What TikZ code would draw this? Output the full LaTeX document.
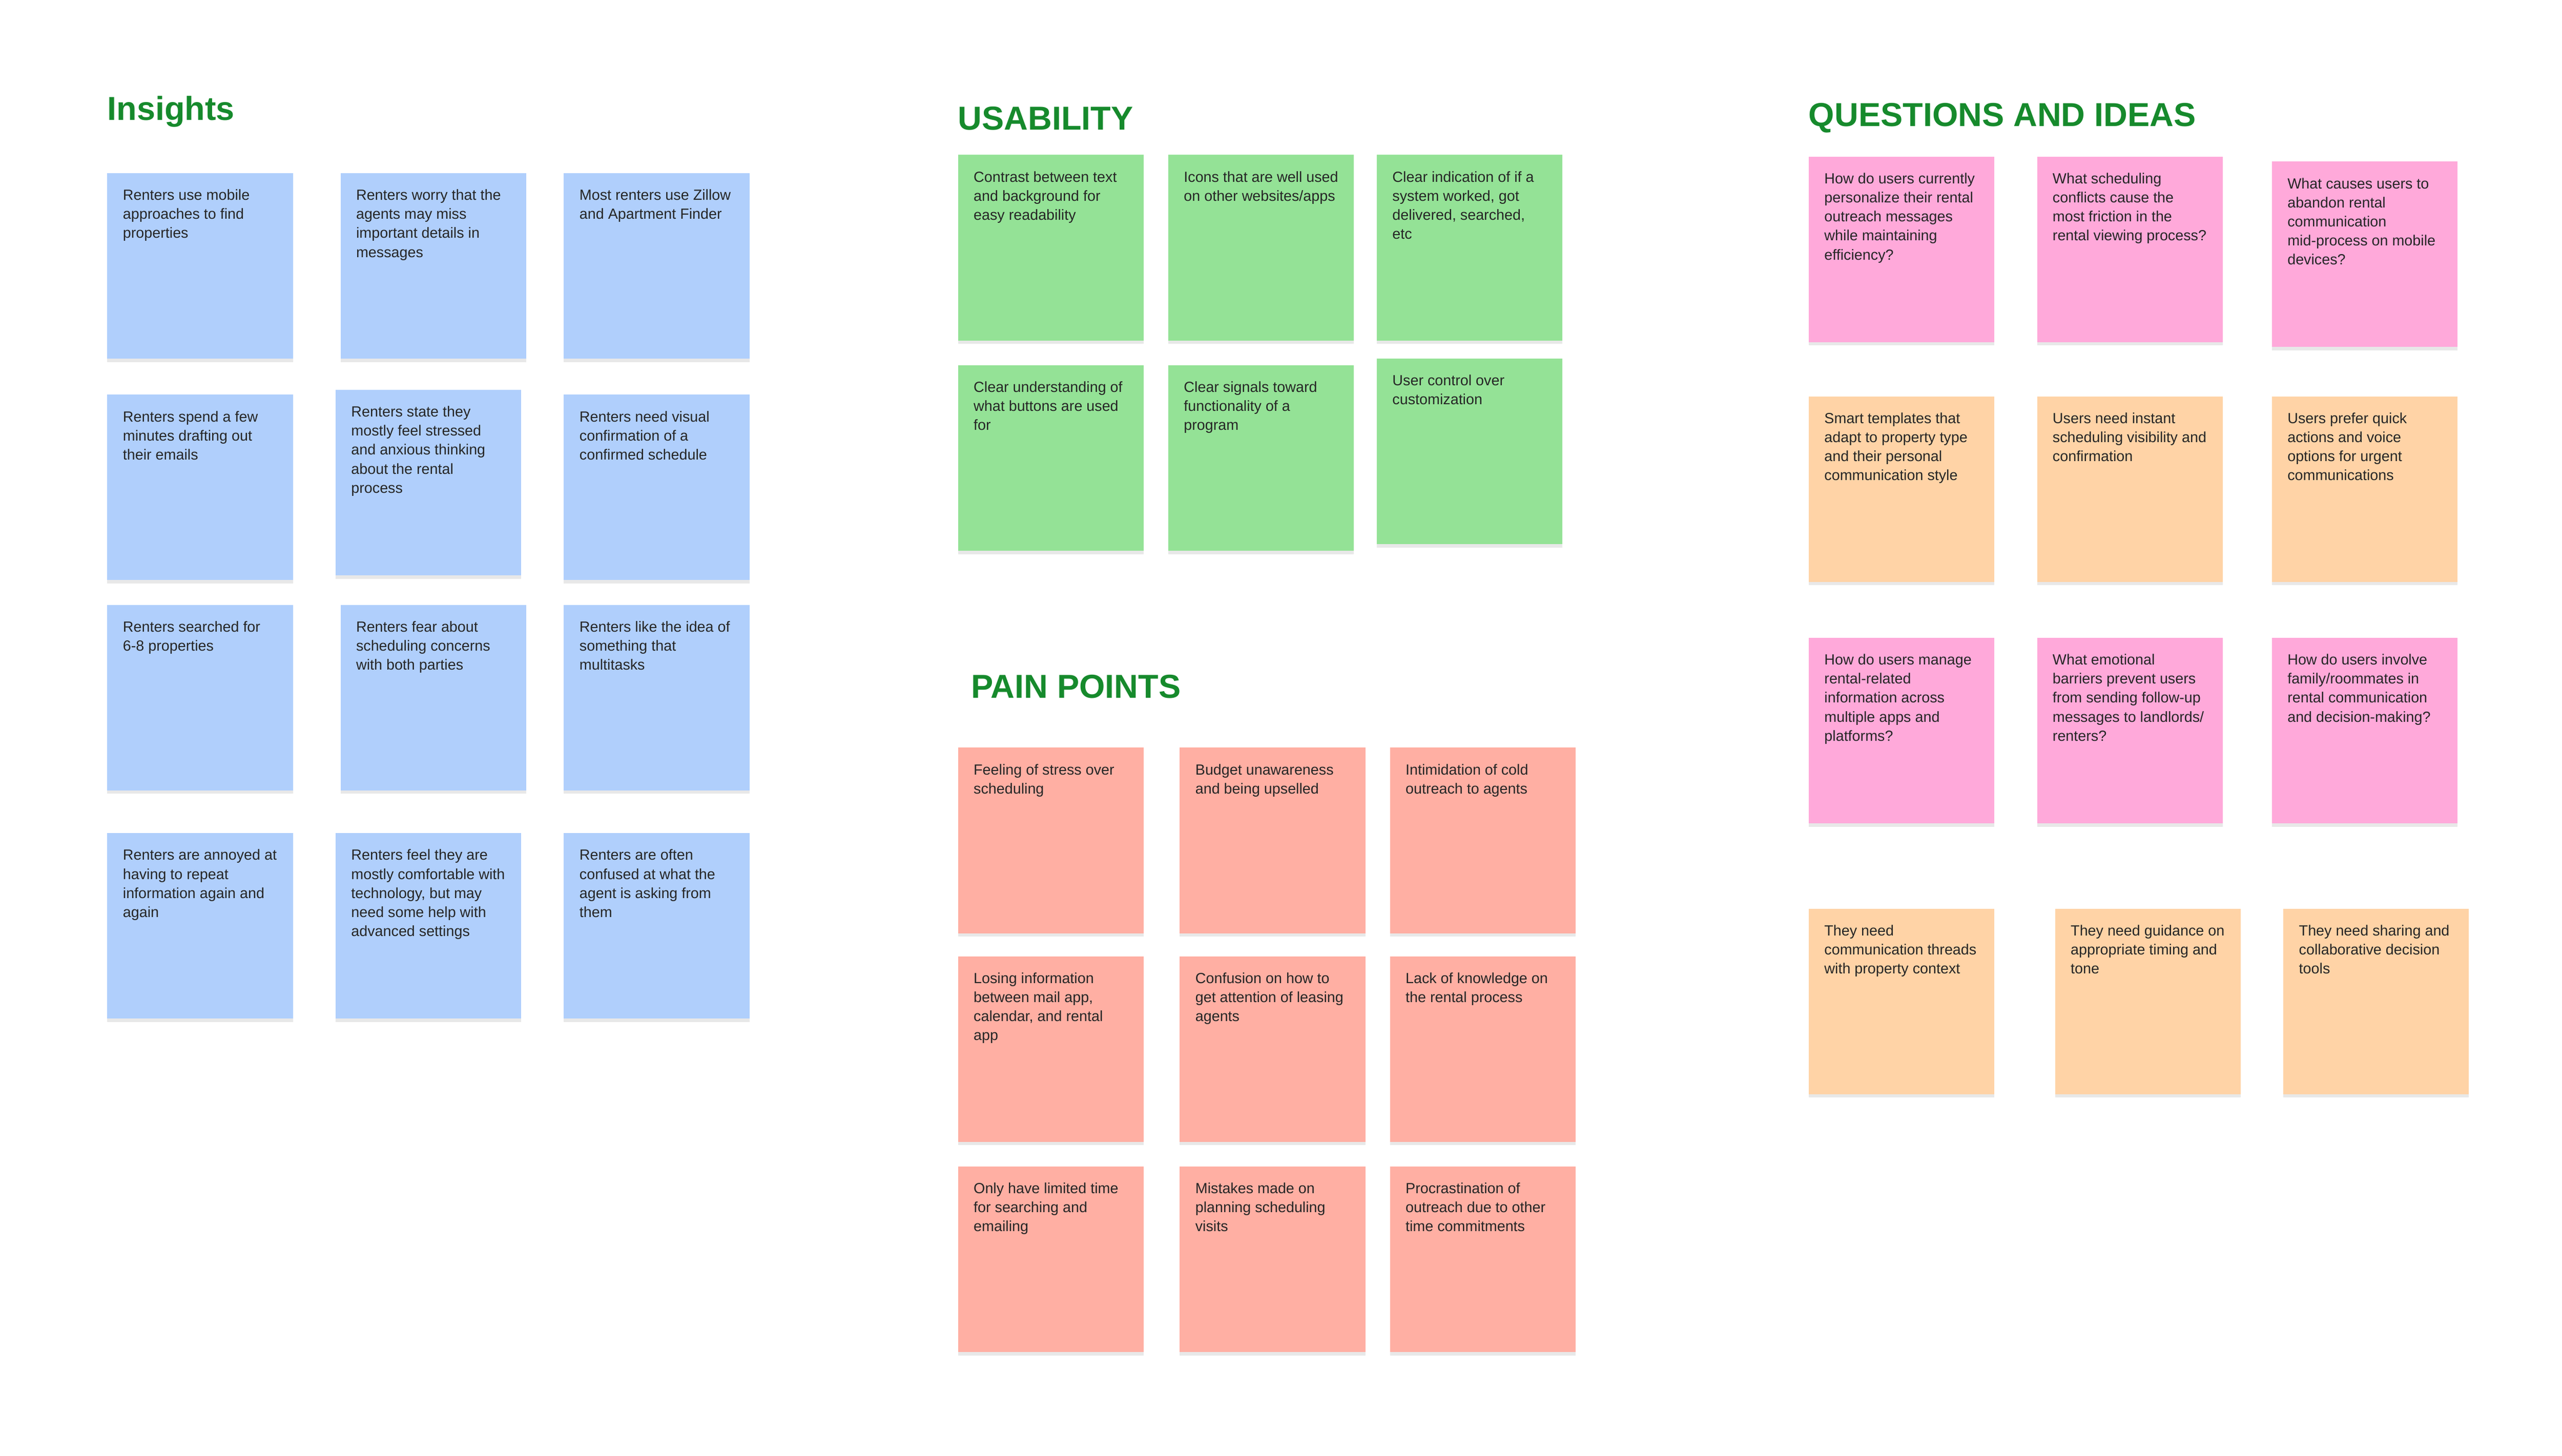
\documentclass[tikz,border=0pt]{standalone}
\usepackage{fontspec}
\setmainfont{Liberation Sans}
\usetikzlibrary{shadows}
\definecolor{insightblue}{HTML}{B0CFFC}
\definecolor{usegreen}{HTML}{94E296}
\definecolor{painred}{HTML}{FFAFA3}
\definecolor{ideapink}{HTML}{FFA9DA}
\definecolor{ideaorange}{HTML}{FFD3A6}
\definecolor{headgreen}{HTML}{168A2C}
\newcommand{\stickytext}[1]{\parbox[t][1.86cm][t]{1.88cm}{\raggedright #1}}
\tikzset{
  sticky/.style={anchor=north west, inner xsep=0.19cm, inner ysep=0.2cm,
    font=\fontsize{5.1}{6.6}\selectfont, text=black!85,
    drop shadow={opacity=0.18, shadow xshift=0pt, shadow yshift=-1.2pt}},
  heading/.style={anchor=west, inner sep=0, text=headgreen, font=\fontsize{11.5}{13}\selectfont\bfseries}
}
\begin{document}
\begin{tikzpicture}[x=0.02cm,y=-0.02cm]
    \useasboundingbox[fill=white] (0,0) rectangle (1560,886.5);
    % Insights
    \node[heading] (insights) at (65,68) {Insights};
    \node[sticky, fill=insightblue] (ins1) at (65,105) {\stickytext{Renters use mobile approaches to find properties}};
    \node[sticky, fill=insightblue] (ins2) at (207,105) {\stickytext{Renters worry that the agents may miss important details in messages}};
    \node[sticky, fill=insightblue] (ins3) at (343,105) {\stickytext{Most renters use Zillow and Apartment Finder}};
    \node[sticky, fill=insightblue] (ins4) at (65,240) {\stickytext{Renters spend a few minutes drafting out their emails}};
    \node[sticky, fill=insightblue] (ins5) at (204,237) {\stickytext{Renters state they mostly feel stressed and anxious thinking about the rental process}};
    \node[sticky, fill=insightblue] (ins6) at (343,240) {\stickytext{Renters need visual confirmation of a confirmed schedule}};
    \node[sticky, fill=insightblue] (ins7) at (65,368) {\stickytext{Renters searched for 6-8 properties}};
    \node[sticky, fill=insightblue] (ins8) at (207,368) {\stickytext{Renters fear about scheduling concerns with both parties}};
    \node[sticky, fill=insightblue] (ins9) at (343,368) {\stickytext{Renters like the idea of something that multitasks}};
    \node[sticky, fill=insightblue] (ins10) at (65,507) {\stickytext{Renters are annoyed at having to repeat information again and again}};
    \node[sticky, fill=insightblue] (ins11) at (204,507) {\stickytext{Renters feel they are mostly comfortable with technology, but may need some help with advanced settings}};
    \node[sticky, fill=insightblue] (ins12) at (343,507) {\stickytext{Renters are often confused at what the agent is asking from them}};

    % Usability
    \node[heading] (usability) at (583,72) {USABILITY};
    \node[sticky, fill=usegreen] (use1) at (583,94) {\stickytext{Contrast between text and background for easy readability}};
    \node[sticky, fill=usegreen] (use2) at (711,94) {\stickytext{Icons that are well used on other websites/apps}};
    \node[sticky, fill=usegreen] (use3) at (838,94) {\stickytext{Clear indication of if a system worked, got delivered, searched, etc}};
    \node[sticky, fill=usegreen] (use4) at (583,222) {\stickytext{Clear understanding of what buttons are used for}};
    \node[sticky, fill=usegreen] (use5) at (711,222) {\stickytext{Clear signals toward functionality of a program}};
    \node[sticky, fill=usegreen] (use6) at (838,218) {\stickytext{User control over customization}};

    % Pain points
    \node[heading] (painpoints) at (591,418) {PAIN POINTS};
    \node[sticky, fill=painred] (pain1) at (583,455) {\stickytext{Feeling of stress over scheduling}};
    \node[sticky, fill=painred] (pain2) at (718,455) {\stickytext{Budget unawareness and being upselled}};
    \node[sticky, fill=painred] (pain3) at (846,455) {\stickytext{Intimidation of cold outreach to agents}};
    \node[sticky, fill=painred] (pain4) at (583,582) {\stickytext{Losing information between mail app, calendar, and rental app}};
    \node[sticky, fill=painred] (pain5) at (718,582) {\stickytext{Confusion on how to get attention of leasing agents}};
    \node[sticky, fill=painred] (pain6) at (846,582) {\stickytext{Lack of knowledge on the rental process}};
    \node[sticky, fill=painred] (pain7) at (583,710) {\stickytext{Only have limited time for searching and emailing}};
    \node[sticky, fill=painred] (pain8) at (718,710) {\stickytext{Mistakes made on planning scheduling visits}};
    \node[sticky, fill=painred] (pain9) at (846,710) {\stickytext{Procrastination of outreach due to other time commitments}};

    % Questions and ideas
    \node[heading] (questions) at (1101,72) {QUESTIONS AND IDEAS};
    \node[sticky, fill=ideapink] (q1) at (1101,95) {\stickytext{How do users currently personalize their rental outreach messages while maintaining efficiency?}};
    \node[sticky, fill=ideapink] (q2) at (1240,95) {\stickytext{What scheduling conflicts cause the most friction in the rental viewing process?}};
    \node[sticky, fill=ideapink] (q3) at (1383,98) {\stickytext{What causes users to abandon rental communication mid-process on mobile devices?}};
    \node[sticky, fill=ideaorange] (idea1) at (1101,241) {\stickytext{Smart templates that adapt to property type and their personal communication style}};
    \node[sticky, fill=ideaorange] (idea2) at (1240,241) {\stickytext{Users need instant scheduling visibility and confirmation}};
    \node[sticky, fill=ideaorange] (idea3) at (1383,241) {\stickytext{Users prefer quick actions and voice options for urgent communications}};
    \node[sticky, fill=ideapink] (q4) at (1101,388) {\stickytext{How do users manage rental-related information across multiple apps and platforms?}};
    \node[sticky, fill=ideapink] (q5) at (1240,388) {\stickytext{What emotional barriers prevent users from sending follow-up messages to landlords/ renters?}};
    \node[sticky, fill=ideapink] (q6) at (1383,388) {\stickytext{How do users involve family/roommates in rental communication and decision-making?}};
    \node[sticky, fill=ideaorange] (idea4) at (1101,553) {\stickytext{They need communication threads with property context}};
    \node[sticky, fill=ideaorange] (idea5) at (1251,553) {\stickytext{They need guidance on appropriate timing and tone}};
    \node[sticky, fill=ideaorange] (idea6) at (1390,553) {\stickytext{They need sharing and collaborative decision tools}};
\end{tikzpicture}
\end{document}
